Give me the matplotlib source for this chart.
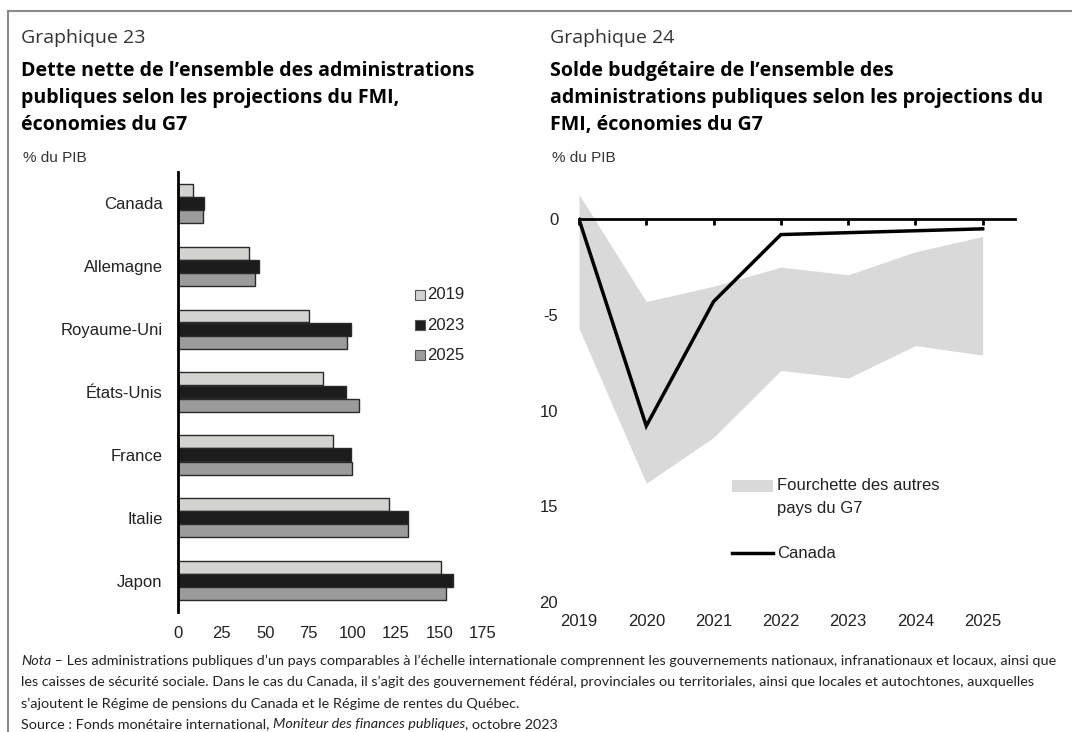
"""Two-panel G7 chart: net debt (bars) and budget balance (line + range band)."""

import matplotlib

matplotlib.use("Agg")
import matplotlib.pyplot as plt
from matplotlib.lines import Line2D
from matplotlib.patches import Rectangle

W, H = 1072, 732

# --- Graphique 23: net debt, % of GDP ---
countries = ["Canada", "Allemagne", "Royaume-Uni", "États-Unis", "France", "Italie", "Japon"]
debt_2019 = [8.5, 41, 75, 83, 89, 121, 151]
debt_2023 = [15, 46.5, 99.5, 96.5, 99.5, 132, 158]
debt_2025 = [14.5, 44, 97, 104, 100, 132, 153.5]
debt_ticks = [0, 25, 50, 75, 100, 125, 150, 175]

# --- Graphique 24: budget balance, % of GDP ---
years = [2019, 2020, 2021, 2022, 2023, 2024, 2025]
canada_balance = [0.0, -10.8, -4.3, -0.8, -0.7, -0.6, -0.5]
others_high = [1.3, -4.3, -3.5, -2.5, -2.9, -1.7, -0.9]
others_low = [-5.7, -13.8, -11.4, -7.9, -8.3, -6.6, -7.1]
balance_ticks = [0, -5, -10, -15, -20]
balance_ticklabels = ["0", "-5", "10", "15", "20"]

TITLE_FONT = "Open Sans"
CHART_FONT = "Liberation Sans"
NOTE_FONT = "Lato"


def fx(x):
    return x / W


def fy(y):
    return 1 - y / H


def axes_rect(left, top, right, bottom):
    return [fx(left), fy(bottom), (right - left) / W, (bottom - top) / H]


fig = plt.figure(figsize=(W / 100, H / 100), dpi=100)

# frame (top and left edges visible)
fig.add_artist(Line2D([fx(8), fx(1072)], [fy(11), fy(11)], color="#8a8a8a", lw=1.5))
fig.add_artist(Line2D([fx(8), fx(8)], [fy(11), fy(732)], color="#8a8a8a", lw=1.5))

# headers
for x0, num, lines in [
    (21, "Graphique 23", ["Dette nette de l’ensemble des administrations",
                          "publiques selon les projections du FMI,",
                          "économies du G7"]),
    (550, "Graphique 24", ["Solde budgétaire de l’ensemble des",
                           "administrations publiques selon les projections du",
                           "FMI, économies du G7"]),
]:
    fig.text(fx(x0), fy(43), num, family=TITLE_FONT, fontsize=14, color="#333333", va="baseline")
    for i, line in enumerate(lines):
        fig.text(fx(x0), fy(76 + 27 * i), line, family=TITLE_FONT, fontsize=14.15,
                 fontweight="bold", color="black", va="baseline")
    fig.text(fx(x0 + 2), fy(162), "% du PIB", family=CHART_FONT, fontsize=11, color="#333333", va="baseline")

# --- left panel: bars ---
ax1 = fig.add_axes(axes_rect(178, 172, 483, 612))
pos = list(range(len(countries)))
bh = 0.205
for vals, off, col in [(debt_2019, -0.21, "#d3d3cf"), (debt_2023, 0.0, "#1c1c1c"), (debt_2025, 0.21, "#9b9b9b")]:
    ax1.barh([p + off for p in pos], vals, height=bh, color=col, edgecolor="#2a2a2a", linewidth=1.0)
ax1.set_xlim(0, 175)
ax1.set_ylim(len(countries) - 0.5, -0.5)
ax1.set_yticks(pos)
ax1.set_yticklabels(countries, family=CHART_FONT, fontsize=12, color="#222222")
ax1.set_xticks(debt_ticks)
ax1.set_xticklabels([str(t) for t in debt_ticks], family=CHART_FONT, fontsize=12, color="#222222")
ax1.tick_params(axis="y", length=0, pad=11)
ax1.tick_params(axis="x", length=0, pad=10)
for s in ["top", "right", "bottom"]:
    ax1.spines[s].set_visible(False)
ax1.spines["left"].set_linewidth(2)
ax1.spines["left"].set_color("black")

# legend for bars
for i, (lab, col) in enumerate([("2019", "#d3d3cf"), ("2023", "#1c1c1c"), ("2025", "#9b9b9b")]):
    yc = 295 + 30 * i
    fig.add_artist(Rectangle((fx(415), fy(yc + 5)), 10 / W, 10 / H, facecolor=col,
                             edgecolor="#555555", lw=0.8, transform=fig.transFigure))
    fig.text(fx(427), fy(yc), lab, family=CHART_FONT, fontsize=12, color="#222222", va="center")

# --- right panel: balance ---
ax2 = fig.add_axes(axes_rect(579, 181, 1015, 602))
ax2.fill_between(years, others_low, others_high, color="#d9d9d9", lw=0)
ax2.plot(years, canada_balance, color="black", lw=2.5, solid_joinstyle="miter")
ax2.set_xlim(2019, 2025.48)
ax2.set_ylim(-20, 2)
ax2.set_yticks(balance_ticks)
ax2.set_yticklabels(balance_ticklabels, family=CHART_FONT, fontsize=12, color="#222222")
ax2.tick_params(axis="y", length=0, pad=15)
for s in ["top", "right", "left"]:
    ax2.spines[s].set_visible(False)
ax2.spines["bottom"].set_position(("data", 0))
ax2.spines["bottom"].set_linewidth(2)
ax2.spines["bottom"].set_color("black")
ax2.set_xticks(years)
ax2.tick_params(axis="x", direction="out", length=4, width=2, labelbottom=False)
sec = ax2.secondary_xaxis(0.0)
sec.set_xticks(years)
sec.set_xticklabels([str(y) for y in years], family=CHART_FONT, fontsize=12, color="#222222")
sec.tick_params(length=0, pad=9)
sec.spines["bottom"].set_visible(False)

# legend for balance
fig.add_artist(Rectangle((fx(732), fy(492)), 41 / W, 12 / H, facecolor="#d9d9d9",
                         lw=0, transform=fig.transFigure))
fig.text(fx(777), fy(486), "Fourchette des autres", family=CHART_FONT, fontsize=12, color="#222222", va="center")
fig.text(fx(777), fy(508), "pays du G7", family=CHART_FONT, fontsize=12, color="#222222", va="center")
fig.add_artist(Line2D([fx(732), fx(773)], [fy(553), fy(553)], color="black", lw=2.5))
fig.text(fx(777), fy(553), "Canada", family=CHART_FONT, fontsize=12, color="#222222", va="center")

# footnote
note = [
    ("Nota", " – Les administrations publiques d’un pays comparables à l’échelle internationale comprennent les gouvernements nationaux, infranationaux et locaux, ainsi que"),
    ("", "les caisses de sécurité sociale. Dans le cas du Canada, il s’agit des gouvernement fédéral, provinciales ou territoriales, ainsi que locales et autochtones, auxquelles"),
    ("", "s’ajoutent le Régime de pensions du Canada et le Régime de rentes du Québec."),
]
NOTE_SIZE = 10.4
for i, (it, rest) in enumerate(note):
    yb = 665 + 21.5 * i
    if it:
        t = fig.text(fx(21), fy(yb), it, family=NOTE_FONT, fontsize=NOTE_SIZE, style="italic", va="baseline", color="#222222")
        fig.canvas.draw()
        bb = t.get_window_extent()
        fig.text(bb.x1 / W, fy(yb), rest, family=NOTE_FONT, fontsize=NOTE_SIZE, va="baseline", color="#222222")
    else:
        fig.text(fx(21), fy(yb), rest, family=NOTE_FONT, fontsize=NOTE_SIZE, va="baseline", color="#222222")

src_parts = [("Source : Fonds monétaire international, ", "normal"),
             ("Moniteur des finances publiques", "italic"),
             (", octobre 2023", "normal")]
x = 21
fig.canvas.draw()
for txt, st in src_parts:
    t = fig.text(fx(x), fy(728), txt, family=NOTE_FONT, fontsize=NOTE_SIZE, style=st, va="baseline", color="#222222")
    fig.canvas.draw()
    x = t.get_window_extent().x1

fig.savefig("out.png", dpi=100)
